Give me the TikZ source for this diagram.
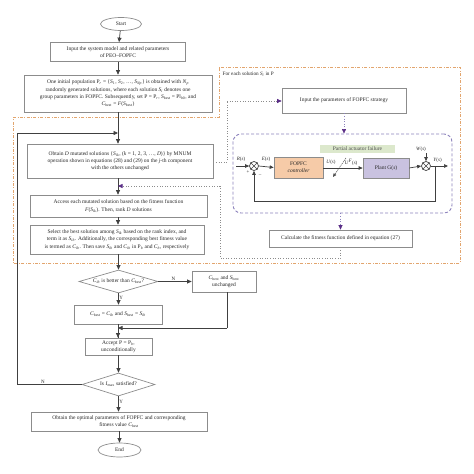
\documentclass[tikz,border=0pt]{standalone}
\usepackage{fontspec}
\setmainfont{Liberation Serif}
\usetikzlibrary{arrows.meta,shapes.geometric,calc}
\definecolor{boxline}{HTML}{8C8C8C}
\definecolor{orangeln}{HTML}{E2A56E}
\definecolor{purpln}{HTML}{8C82BC}
\definecolor{purparr}{HTML}{5A2D86}
\definecolor{ctrlfill}{HTML}{F6CBA8}
\definecolor{plantfill}{HTML}{C9C2E0}
\definecolor{failfill}{HTML}{DCE8CC}
\newcommand{\vv}[2]{\textit{#1}\textsubscript{#2}}
\begin{document}
\begin{tikzpicture}[x=1pt,y=-1pt,
  every node/.style={font=\fontsize{5.5}{7.3}\selectfont, text=black!85},
  procbox/.style={draw=boxline, line width=0.7pt, align=center, inner sep=1pt},
  termin/.style={draw=boxline, line width=0.7pt, ellipse, inner sep=0pt},
  decis/.style={draw=boxline, line width=0.7pt, diamond, inner xsep=-20pt, inner ysep=-3pt, align=center},
  flow/.style={line width=0.7pt, draw=black!75, -{Triangle[length=4.5pt,width=4pt]}},
  plainln/.style={line width=0.7pt, draw=black!75},
  dotln/.style={line width=0.6pt, draw=black!45, dotted},
  dotarr/.style={line width=0.6pt, draw=black!45, dotted, -{Triangle[length=4.5pt,width=4pt,color=purparr,fill=purparr]}},
  purparrow/.style={line width=0.6pt, draw=purpln, dotted, -{Triangle[length=4.5pt,width=4pt,color=purparr,fill=purparr]}},
  sumj/.style={draw=black!75, line width=0.7pt, circle, minimum size=9pt, inner sep=0pt},
  blk/.style={draw=boxline, line width=0.7pt, align=center, inner sep=1pt},
  sig/.style={line width=0.7pt, draw=black!75, -{Triangle[length=4pt,width=3.5pt]}},
  lbl/.style={font=\fontsize{5}{6}\selectfont, inner sep=0.5pt}
]
\useasboundingbox (0,0) rectangle (474,474);

% orange dash-dot region
\draw[orangeln, line width=0.7pt, dash pattern=on 3pt off 1.5pt on 0.8pt off 1.5pt]
  (13,117) -- (219,117) -- (219,67) -- (460,67) -- (460,263) -- (13,263) -- cycle;
\node[anchor=west, lbl, font=\fontsize{5.2}{6}\selectfont] (foreach) at (222,74) {For each solution \vv{S}{\textit{i}} in P};

% main flow
\node[termin, minimum width=41pt, minimum height=13pt] (start) at (121,24) {Start};
\node[procbox, minimum width=135pt, minimum height=19pt] (b1) at (118,52)
  {Input the system model and related parameters\\ of PEO--FOPFC};
\node[procbox, minimum width=188pt, minimum height=37pt] (b2) at (118,93.5)
  {One initial population P\textsubscript{\textit{r}} = \{\vv{S}{1}, \vv{S}{2}, \ldots, \vv{S}{\textit{Np}}\} is obtained with \vv{N}{\textit{p}}\\
   randomly generated solutions, where each solution \vv{S}{\textit{i}} denotes one\\
   group parameters in FOPFC. Subsequently, set P = P\textsubscript{\textit{r}}, \vv{S}{best} = Pl\textsubscript{\textit{b}0}, and\\
   \vv{C}{best} = \textit{F}(\vv{S}{best})};
\node[procbox, minimum width=186pt, minimum height=34pt] (b3) at (120,161)
  {Obtain \textit{D} mutated solutions \{\vv{S}{\textit{ik}}, (\textit{k} = 1, 2, 3, \ldots, \textit{D})\} by MNUM\\
   operation shown in equations (28) and (29) on the \textit{j}-th component\\
   with the others unchanged};
\node[procbox, minimum width=177pt, minimum height=22pt] (b4) at (118.5,206)
  {Access each mutated solution based on the fitness function\\
   \textit{F}(\vv{S}{\textit{ik}}). Then, rank \textit{D} solutions};
\node[procbox, minimum width=174pt, minimum height=29pt] (b5) at (117,239.5)
  {Select the best solution among \vv{S}{\textit{ik}} based on the rank index, and\\
   term it as \vv{S}{\textit{ib}}. Additionally, the corresponding best fitness value\\
   is termed as \vv{C}{\textit{ib}}. Then save \vv{S}{\textit{ib}} and \vv{C}{\textit{ib}} in P\textsubscript{\textit{b}} and \vv{C}{\textit{b}}, respectively};
\node[decis, minimum width=79pt, minimum height=23pt] (d1) at (118.5,281.5)
  {\vv{C}{\textit{ib}} is better than \vv{C}{best}?};
\node[procbox, minimum width=64pt, minimum height=21pt] (unch) at (224,281.5)
  {\vv{C}{best} and \vv{S}{best}\\ unchanged};
\node[procbox, minimum width=88pt, minimum height=19pt] (b6) at (118,314.5)
  {\vv{C}{best} = \vv{C}{\textit{ib}} and \vv{S}{best} = \vv{S}{\textit{ib}}};
\node[procbox, minimum width=67pt, minimum height=17pt] (acc) at (118.5,346.5)
  {Accept P = P\textsubscript{\textit{b}},\\ unconditionally};
\node[decis, minimum width=73pt, minimum height=23pt] (d2) at (118.5,384.5)
  {Is \vv{I}{max} satisfied?};
\node[procbox, minimum width=176pt, minimum height=19pt] (fin) at (119,421.5)
  {Obtain the optimal parameters of FOPFC and corresponding\\ fitness value \vv{C}{best}};
\node[termin, minimum width=43pt, minimum height=14pt] (end) at (119.5,450)
  {End};

\coordinate (loopin) at (118,133);
\coordinate (loopL) at (17,133);
\coordinate (loopB) at (17,384.5);
\coordinate (joinR) at (227,328);
\coordinate (joinM) at (118,328);

\draw[flow] (start) -- (b1);
\draw[flow] (b1) -- (b2);
\draw[flow] (b2.south -| b3.north -| loopin) -- (loopin |- b3.north);
\draw[flow] (b3.south -| loopin) -- (loopin |- b4.north);
\draw[flow] (b4.south -| b5.north -| loopin) -- (loopin |- b5.north);
\draw[flow] (b5.south -| d1.north) -- (d1.north);
\draw[flow] (d1.east) -- node[above, lbl, pos=0.45] {N} (unch.west);
\draw[flow] (d1.south) -- node[right, lbl, pos=0.4] {Y} (b6.north -| d1.south);
\draw[plainln] (b6.south -| joinM) -- (acc.north -| joinM);
\draw[flow] (joinM) -- (acc.north -| joinM);
\draw[plainln] (unch.south -| joinR) -- (joinR);
\draw[flow] (joinR) -- (joinM);
\draw[flow] (acc.south -| d2.north) -- (d2.north);
\draw[flow] (d2.south) -- node[right, lbl, pos=0.35] {Y} (fin.north -| d2.south);
\draw[flow] (fin.south -| end.north) -- (end.north);
\draw[plainln] (d2.west) -- node[above, lbl, pos=0.6] {N} (loopB) -- (loopL);
\draw[flow] (loopL) -- (loopin);

% right side: FOPFC evaluation
\node[procbox, minimum width=124pt, minimum height=25pt] (inp) at (344,100.5)
  {Input the parameters of FOPFC strategy};
\node[procbox, minimum width=143pt, minimum height=17pt] (calc) at (340.5,238.5)
  {Calculate the fitness function defined in equation (27)};

% purple dashed rounded block
\node[draw=purpln, line width=0.9pt, dashed, dash pattern=on 3pt off 2pt, rounded corners=8pt,
  minimum width=219pt, minimum height=79pt, inner sep=0pt] (sys) at (342.5,173.5) {};

\node[sumj] (s1) at (254,166) {};
\draw[line width=0.6pt, black!75] (s1.north west) -- (s1.south east) (s1.north east) -- (s1.south west);
\node[sumj] (s2) at (426,166) {};
\draw[line width=0.6pt, black!75] (s2.north west) -- (s2.south east) (s2.north east) -- (s2.south west);
\node[blk, fill=ctrlfill, minimum width=49pt, minimum height=21pt] (ctrl) at (298.5,167.5)
  {FOPFC\\ \textit{controller}};
\node[blk, fill=plantfill, minimum width=46pt, minimum height=20pt] (plant) at (386,168)
  {Plant G(\textit{s})};
\node[fill=failfill, inner sep=1pt, minimum width=75pt, minimum height=8pt, text=black!70] (fail) at (357.5,149)
  {Partial actuator failure};

\coordinate (rin) at (236,166);
\coordinate (win) at (426,153);
\coordinate (yout) at (448,166);
\coordinate (fbR) at (435,166);
\coordinate (fbRB) at (435,201);
\coordinate (fbLB) at (254,201);
\coordinate (swA) at (346,158);
\coordinate (swB) at (333,177);

\draw[sig] (rin) -- (s1.west);
\node[lbl] (rlab) at (241,159) {\textit{R}(\textit{s})};
\node[lbl] (plus) at (248,172.5) {+};
\node[lbl] (minus) at (260,175.5) {--};
\draw[sig] (s1.east) -- (ctrl.west);
\node[lbl] (elab) at (266,159.5) {\textit{E}(\textit{s})};
\draw[sig] (ctrl.east |- plant.west) -- (plant.west);
\node[lbl] (ulab) at (331,162.5) {\textit{U}(\textit{s})};
\node[lbl] (uflab) at (351,162.5) {\textit{U}\textsuperscript{\textit{F}}(\textit{s})};
\draw[line width=0.5pt, black!70, dashed, dash pattern=on 1.2pt off 0.8pt, -{Triangle[length=3.5pt,width=3pt]}] (swA) -- (swB);
\draw[sig] (plant.east) -- (s2.west);
\node[lbl] (wlab) at (421,149) {\textit{W}(\textit{s})};
\draw[sig] (win) -- (s2.north);
\draw[sig] (s2.east) -- (yout);
\node[lbl] (ylab) at (437.5,160.5) {\textit{Y}(\textit{s})};
\draw[plainln] (fbR) -- (fbRB) -- (fbLB);
\draw[sig] (fbLB) -- (s1.south);

% dotted connectors
\coordinate (dA) at (227,162);
\coordinate (dB) at (227,101);
\draw[dotln] (b3.east |- dA) -- (dA) -- (dB);
\draw[dotarr] (dB) -- (inp.west |- dB);
\draw[purparrow] (inp.south) -- (inp.south |- sys.north);
\draw[purparrow] (calc.north |- sys.south) -- (calc.north);
\coordinate (eA) at (340.5,258);
\coordinate (eB) at (220,258);
\coordinate (eC) at (220,186);
\coordinate (eD) at (118,186);
\draw[dotln] (calc.south) -- (eA) -- (eB) -- (eC);
\draw[dotarr] (eC) -- (eD);
\end{tikzpicture}
\end{document}
